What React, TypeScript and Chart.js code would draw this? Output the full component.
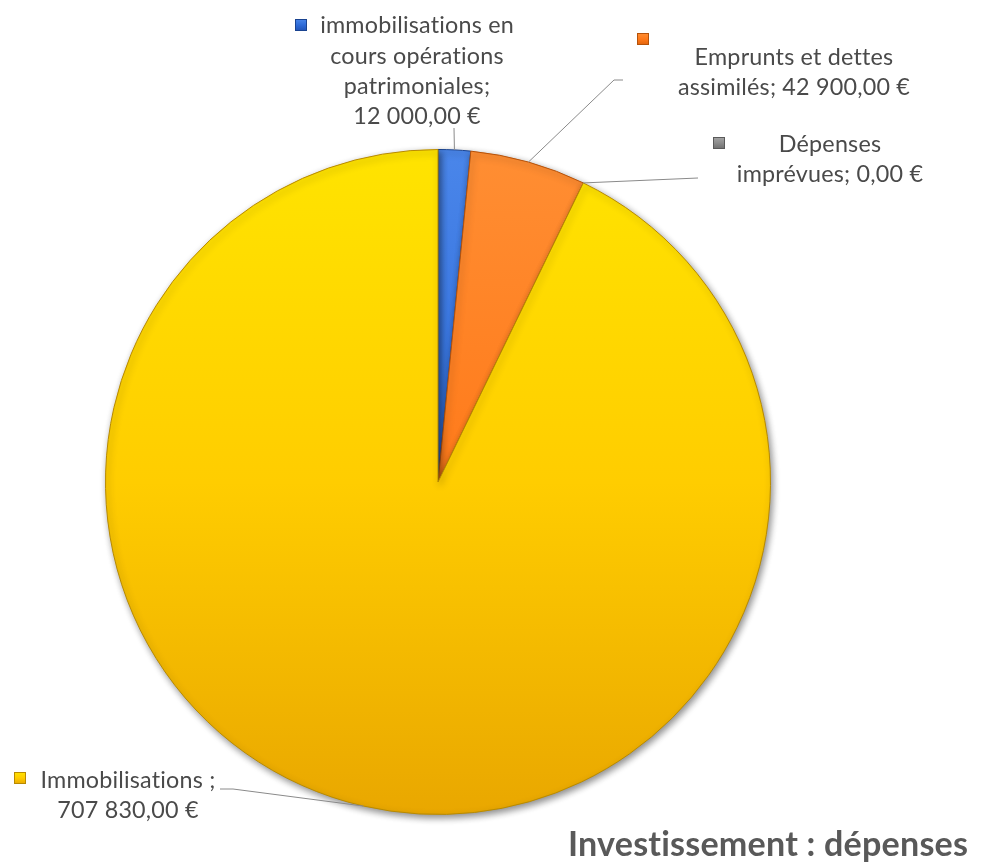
import React, { useEffect, useRef } from "react";
import { Chart, registerables } from "chart.js";

Chart.register(...registerables);

// ---- data ----
const categories = [
  "immobilisations en cours opérations patrimoniales",
  "Emprunts et dettes assimilés",
  "Dépenses imprévues",
  "Immobilisations ",
];
const values = [12000, 42900, 0, 707830];
const labelLines = [
  ["immobilisations en", "cours opérations", "patrimoniales;", "12 000,00 €"],
  ["Emprunts et dettes", "assimilés; 42 900,00 €"],
  ["Dépenses", "imprévues; 0,00 €"],
  ["Immobilisations ;", "707 830,00 €"],
];
const chartTitle = "Investissement : dépenses";

// ---- styles ----
const sliceGradients = [
  ["#4A86EA", "#2E6BD8", "#1F52B5"],
  ["#FF8E33", "#FF7A1A", "#E0620C"],
  ["#A6A6A6", "#8C8C8C", "#6E6E6E"],
  ["#FFE400", "#FFCD00", "#E9A700"],
];
const sliceBorders = ["#1A4390", "#B5520A", "#5A5A5A", "#B88A00"];

// label layout: center x, baselines, marker box, leader line points (from label to slice)
const labelLayout = [
  { cx: 417, baselines: [33, 64, 94, 124], marker: [295, 19], line: [[454, 128]] },
  { cx: 794, baselines: [65, 95], marker: [637, 33], line: [[623, 80], [614, 80]] },
  { cx: 830, baselines: [152, 182], marker: [713, 137], line: [[698, 178]] },
  { cx: 128, baselines: [788, 818], marker: [14, 772], line: [[220, 789], [233, 789]] },
];

const TEXT_COLOR = "#4A4A4A";
const TITLE_COLOR = "#595959";
const SPACING = "0.2px";

function fitFont(ctx: CanvasRenderingContext2D, text: string, weight: string, family: string, target: number) {
  ctx.save();
  (ctx as any).letterSpacing = SPACING;
  ctx.font = `${weight} 100px ${family}`;
  const w = ctx.measureText(text).width;
  ctx.restore();
  return (100 * target) / w;
}

const shadowPlugin = {
  id: "sliceShadow",
  beforeDatasetDraw(chart: any) {
    const ctx = chart.ctx;
    ctx.save();
    ctx.shadowColor = "rgba(0,0,0,0.45)";
    ctx.shadowBlur = 7;
    ctx.shadowOffsetX = 2;
    ctx.shadowOffsetY = 3;
  },
  afterDatasetDraw(chart: any) {
    chart.ctx.restore();
  },
};

function drawMarker(ctx: CanvasRenderingContext2D, x: number, y: number, i: number) {
  const s = 12;
  const g = ctx.createLinearGradient(x, y, x, y + s);
  g.addColorStop(0, sliceGradients[i][0]);
  g.addColorStop(0.5, sliceGradients[i][1]);
  g.addColorStop(1, sliceGradients[i][2]);
  ctx.fillStyle = g;
  ctx.fillRect(x, y, s, s);
  ctx.strokeStyle = sliceBorders[i];
  ctx.lineWidth = 1;
  ctx.strokeRect(x + 0.5, y + 0.5, s - 1, s - 1);
}

const labelPlugin = {
  id: "pieLabels",
  afterDraw(chart: any) {
    const ctx: CanvasRenderingContext2D = chart.ctx;
    const meta = chart.getDatasetMeta(0);
    const labelSize = fitFont(ctx, "immobilisations en", "normal", "Lato", 191);
    ctx.save();
    (ctx as any).letterSpacing = SPACING;
    meta.data.forEach((arc: any, i: number) => {
      const p = arc.getProps(["x", "y", "startAngle", "endAngle", "outerRadius"], true);
      const mid = (p.startAngle + p.endAngle) / 2;
      const ax = p.x + Math.cos(mid) * p.outerRadius;
      const ay = p.y + Math.sin(mid) * p.outerRadius;
      const lay = labelLayout[i];
      // leader line
      ctx.beginPath();
      ctx.strokeStyle = "#8A8A8A";
      ctx.lineWidth = 1;
      const pts = lay.line;
      ctx.moveTo(pts[0][0], pts[0][1]);
      for (let k = 1; k < pts.length; k++) ctx.lineTo(pts[k][0], pts[k][1]);
      ctx.lineTo(ax, ay);
      ctx.stroke();
      // marker
      drawMarker(ctx, lay.marker[0], lay.marker[1], i);
      // text
      ctx.fillStyle = TEXT_COLOR;
      ctx.font = `normal ${labelSize}px Lato`;
      ctx.textAlign = "center";
      ctx.textBaseline = "alphabetic";
      labelLines[i].forEach((ln, k) => ctx.fillText(ln, lay.cx, lay.baselines[k]));
    });
    // title
    const tSize = fitFont(ctx, chartTitle, "bold", "Lato", 397);
    ctx.font = `bold ${tSize}px Lato`;
    ctx.fillStyle = TITLE_COLOR;
    ctx.textAlign = "left";
    ctx.fillText(chartTitle, 568, 856);
    ctx.restore();
  },
};

export default function App() {
  const ref = useRef<HTMLCanvasElement | null>(null);
  useEffect(() => {
    document.body.style.margin = "0";
    if (!ref.current) return;
    const chart = new Chart(ref.current, {
      type: "pie",
      data: {
        labels: categories,
        datasets: [
          {
            data: values,
            backgroundColor: (c: any) => {
              const i = c.dataIndex;
              const area = c.chart.chartArea;
              if (!area) return sliceGradients[i][1];
              const g = c.chart.ctx.createLinearGradient(0, area.top, 0, area.bottom);
              g.addColorStop(0, sliceGradients[i][0]);
              g.addColorStop(0.5, sliceGradients[i][1]);
              g.addColorStop(1, sliceGradients[i][2]);
              return g;
            },
            borderColor: sliceBorders,
            borderWidth: 1,
          },
        ],
      },
      options: {
        responsive: false,
        animation: false,
        layout: { padding: { left: 105, right: 211, top: 149, bottom: 48 } },
        plugins: {
          legend: { display: false },
          tooltip: { enabled: false },
          title: { display: false },
        },
      },
      plugins: [shadowPlugin, labelPlugin],
    });
    return () => chart.destroy();
  }, []);
  return (
    <div style={{ width: 982, height: 863, background: "#fff" }}>
      <canvas ref={ref} width={982} height={863} style={{ display: "block" }} />
    </div>
  );
}
